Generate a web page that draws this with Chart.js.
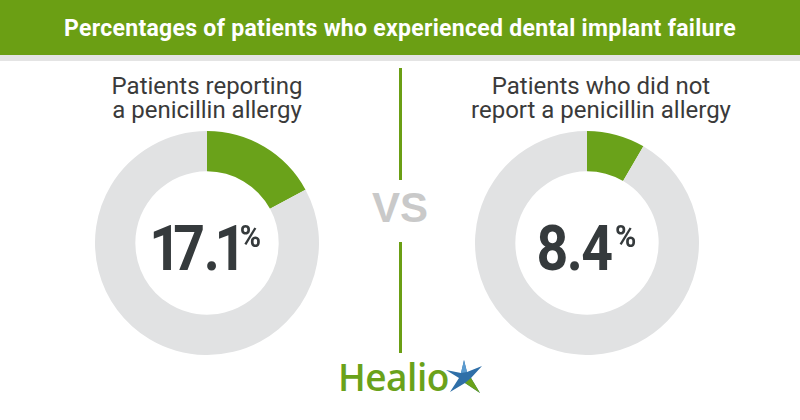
<!DOCTYPE html>
<html>
<head>
<script src="https://cdn.jsdelivr.net/npm/chart.js"></script>
<title>Dental implant failure</title>
<style>
  body { margin: 0; background: #fff; }
  #wrap { position: relative; width: 800px; height: 420px; overflow: hidden; font-family: Roboto, sans-serif; }
  #head { position: absolute; left: 0; top: 0; width: 800px; height: 55px; background: #6b9f14; }
  #strip { position: absolute; left: 0; top: 55px; width: 800px; height: 6px; background: #e4e4e4; }
  #title { position: absolute; left: 0; top: 16px; width: 800px; text-align: center; color: #fff;
           font-weight: bold; font-size: 23px; line-height: 26px; letter-spacing: 0.3px; }
  .sub { position: absolute; top: 74px; width: 320px; text-align: center; color: #3a3a3a; font-size: 24px; line-height: 24px; }
  .donut { position: absolute; top: 131px; width: 224px; height: 224px; }
  .vline { position: absolute; left: 399px; width: 3px; background: #6b9f14; }
  #vs { position: absolute; left: 350px; top: 185px; width: 100px; text-align: center; color: #c9c9c9;
        font-family: "Liberation Sans", Arial, sans-serif; font-weight: bold; font-size: 42px; line-height: 46px; }
  #logo { position: absolute; left: 338px; top: 355px; height: 48px; }
  #logo span { font-family: "Open Sans", sans-serif; font-weight: 600; font-size: 37px; color: #6aa21a; position: absolute; left: 0; top: -4px; letter-spacing: -0.5px; }
  #logo svg { position: absolute; left: 106px; top: 5px; }
</style>
</head>
<body>
<div id="wrap">
  <div id="head"></div>
  <div id="strip"></div>
  <div id="title"></div>
  <div class="sub" id="sub0" style="left:47px"></div>
  <div class="sub" id="sub1" style="left:441px"></div>
  <canvas class="donut" id="c0" width="224" height="224" style="left:95px"></canvas>
  <canvas class="donut" id="c1" width="224" height="224" style="left:475px"></canvas>
  <div class="vline" style="top:68px;height:112px"></div>
  <div class="vline" style="top:242px;height:111px"></div>
  <div id="vs">VS</div>
  <div id="logo">
    <span>Healio</span>
    <svg width="40" height="36" viewBox="0 0 40 36">
      <polygon points="20,0 23,12 38,6 27,18 36,33 21,23 6,32 15,18 2,10 17,13" fill="#2f6fa8"/>
      <polygon points="27,18 36,33 21,23" fill="#6aa21a"/>
      <polygon points="20,0 23,12 17,13" fill="#5b9bd0"/>
    </svg>
  </div>
</div>
<script>
const chartTitle = 'Percentages of patients who experienced dental implant failure';
const groups = ['Patients reporting\na penicillin allergy', 'Patients who did not\nreport a penicillin allergy'];
const failurePct = [17.1, 8.4];
const otherPct = [82.9, 91.6];
const sliceLabels = ['Implant failure', 'No failure'];

const green = '#6aa21a';
const grey = '#e1e2e3';

document.getElementById('title').textContent = chartTitle;
groups.forEach((g, i) => {
  document.getElementById('sub' + i).innerHTML = g.split('\n').join('<br>');
});

// big number in the hole, drawn glyph by glyph so the 1s sit tight like a condensed face
const centerText = {
  id: 'centerText',
  afterDraw(chart) {
    const ctx = chart.ctx;
    const arc = chart.getDatasetMeta(0).data[0];
    const chars = chart.data.datasets[0].data[0].toFixed(1).split('');
    const sx = 0.88, gap = 3;
    ctx.save();
    ctx.fillStyle = '#353a3c';
    ctx.font = 'bold 63px Roboto';
    const boxes = chars.map(c => {
      const m = ctx.measureText(c);
      return { c, l: m.actualBoundingBoxLeft, r: m.actualBoundingBoxRight };
    });
    let total = 0;
    boxes.forEach((b, i) => { total += (b.l + b.r) * sx + (i ? gap : 0); });
    ctx.font = 'bold 32px Roboto';
    const pm = ctx.measureText('%');
    const pw = (pm.actualBoundingBoxLeft + pm.actualBoundingBoxRight) * 0.9;
    total += 4 + pw;

    const base = arc.y + 27;
    let x = arc.x - total / 2;
    ctx.font = 'bold 63px Roboto';
    boxes.forEach(b => {
      ctx.save();
      ctx.translate(x, base);
      ctx.scale(sx, 1);
      ctx.fillText(b.c, b.l, 0);
      ctx.restore();
      x += (b.l + b.r) * sx + gap;
    });
    x += 1;
    ctx.font = 'bold 32px Roboto';
    ctx.translate(x, base - 45 + pm.actualBoundingBoxAscent);
    ctx.scale(0.9, 1);
    ctx.fillText('%', pm.actualBoundingBoxLeft, 0);
    ctx.restore();
  }
};

failurePct.forEach((v, i) => {
  new Chart(document.getElementById('c' + i), {
    type: 'doughnut',
    data: {
      labels: sliceLabels,
      datasets: [{
        data: [v, otherPct[i]],
        backgroundColor: [green, grey],
        borderWidth: 0
      }]
    },
    options: {
      responsive: false,
      animation: false,
      cutout: '64%',
      layout: { padding: 0 },
      plugins: { legend: { display: false }, tooltip: { enabled: false } }
    },
    plugins: [centerText]
  });
});
</script>
</body>
</html>
